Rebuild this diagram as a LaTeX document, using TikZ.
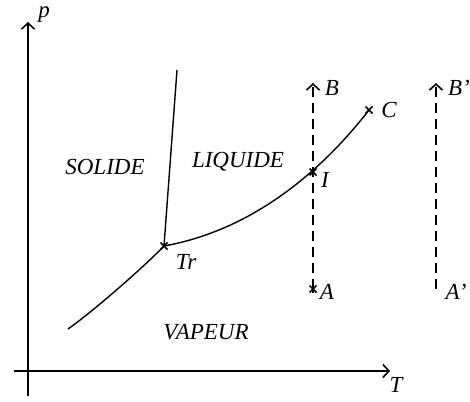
\documentclass[tikz,border=0pt]{standalone}
\usepackage{fontspec}
\setmainfont{Liberation Serif}
\usetikzlibrary{arrows.meta}
\tikzset{
  fleche/.style={-{Straight Barb[length=6pt,width=13pt]}},
  zone/.style={font=\itshape\fontsize{23}{23}\selectfont, inner sep=0pt},
  lettre/.style={font=\itshape\fontsize{23}{23}\selectfont, inner sep=0pt},
  pointille/.style={dash pattern=on 10pt off 6pt}
}
\newcommand{\croix}[1]{\draw (#1) ++(-3.5,-3.5) -- ++(7,7) (#1) ++(-3.5,3.5) -- ++(7,-7);}

\begin{document}
\begin{tikzpicture}[x=1pt, y=1pt, line width=1.6pt]
  \useasboundingbox (0,0) rectangle (470,401);
  % axes
  \coordinate (ybas) at (28,5);
  \coordinate (yhaut) at (28,379);
  \coordinate (xgauche) at (14,30);
  \coordinate (xdroite) at (390,30);
  \draw[fleche] (ybas) -- (yhaut);
  \draw[fleche] (xgauche) -- (xdroite);
  \node[lettre] (p) at (44,386) {p};
  \node[lettre] (T) at (396,16) {T};
  % points
  \coordinate (Tr) at (164,155);
  \coordinate (fus) at (177,331);
  \coordinate (sub) at (68,72);
  \coordinate (I) at (313,229);
  \coordinate (C) at (369,291);
  \coordinate (A) at (313,112);
  \coordinate (B) at (313,318);
  \coordinate (A2) at (436,112);
  \coordinate (B2) at (436,318);
  % courbes
  \draw[line width=1.4pt] (Tr) -- (fus);
  \draw[line width=1.4pt] (sub) .. controls (92.6,89.3) and (142.5,132.7) .. (Tr);
  \draw[line width=1.4pt] (Tr) .. controls (247.7,170) and (317,224) .. (C);
  % transformations
  \draw[pointille,fleche] (A) -- (B);
  \draw[pointille,fleche] (A2) -- (B2);
  \croix{Tr}
  \croix{I}
  \croix{C}
  \croix{A}
  \draw (A) ++(0,-4) -- ++(0,8);
  % noms
  \node[zone] (solide) at (105,234) {SOLIDE};
  \node[zone] (liquide) at (238,239) {LIQUIDE};
  \node[zone] (vapeur) at (206,69) {VAPEUR};
  \node[lettre] (nB) at (332,313) {B};
  \node[lettre] (nC) at (389,291) {C};
  \node[lettre] (nI) at (325,221) {I};
  \node[lettre] (nA) at (327,109) {A};
  \node[lettre] (nA2) at (456,109) {A’};
  \node[lettre] (nB2) at (459,313) {B’};
  \node[lettre] (nTr) at (186,139) {Tr};
\end{tikzpicture}
\end{document}
